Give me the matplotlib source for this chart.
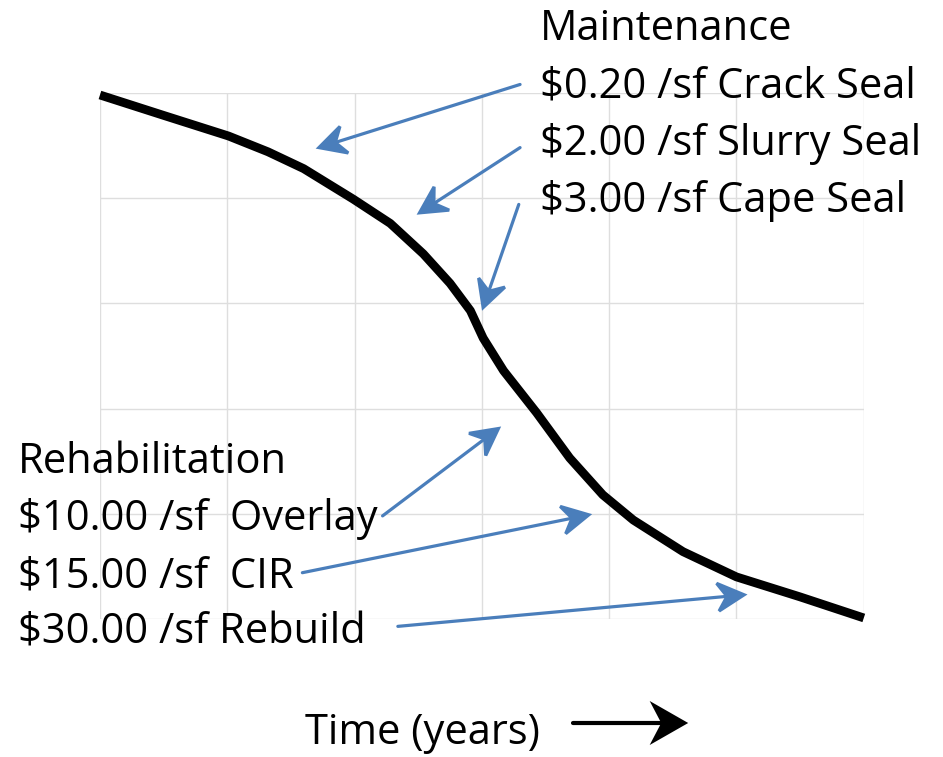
import numpy as np
import matplotlib
matplotlib.use('Agg')
import matplotlib.pyplot as plt
from matplotlib.patches import FancyArrowPatch, ArrowStyle
from matplotlib.path import Path

###############################
# data
###############################

# deterioration curve (condition vs time)
time_pts = [0, 0.49, 1.01, 1.32, 1.60, 1.99, 2.28, 2.54, 2.75, 2.91, 3.01, 3.17,
            3.43, 3.69, 3.95, 4.19, 4.58, 5.00, 5.50, 6.00]
cond_pts = [4.98, 4.79, 4.59, 4.44, 4.28, 3.99, 3.76, 3.47, 3.19, 2.93, 2.67, 2.36,
            1.96, 1.53, 1.18, 0.94, 0.64, 0.40, 0.21, 0.01]

maint_labels = ['Maintenance', '$0.20 /sf Crack Seal', '$2.00 /sf Slurry Seal', '$3.00 /sf Cape Seal']
rehab_labels = ['Rehabilitation', '$10.00 /sf  Overlay', '$15.00 /sf  CIR', '$30.00 /sf Rebuild']

# arrows: (tail x, tail y, tip x, tip y) in data units
maint_arrows = [(3.30, 5.08, 1.72, 4.48),
                (3.30, 4.48, 2.51, 3.86),
                (3.29, 3.94, 3.01, 2.96)]
rehab_arrows = [(2.22, 0.98, 3.13, 1.81),
                (1.59, 0.44, 3.84, 0.99),
                (2.34, -0.07, 5.06, 0.23)]

blue = '#4a7ebb'
font = ['Open Sans', 'DejaVu Sans']
fsize = 30


###############################
# stealth arrow head (office style)
###############################

class Stealth(ArrowStyle._Base):
    def __init__(self, head_length=18, head_width=9, notch=0.35):
        self.head_length = head_length
        self.head_width = head_width
        self.notch = notch
        super().__init__()

    def transmute(self, path, mutation_size, linewidth):
        x0, y0 = path.vertices[0]
        x1, y1 = path.vertices[-1]
        d = np.hypot(x1 - x0, y1 - y0)
        ux, uy = (x1 - x0) / d, (y1 - y0) / d
        px, py = -uy, ux
        hl = self.head_length * mutation_size
        hw = self.head_width * mutation_size
        bx, by = x1 - ux * hl, y1 - uy * hl
        nx, ny = x1 - ux * hl * (1 - self.notch), y1 - uy * hl * (1 - self.notch)
        head = Path([(x1, y1), (bx + px * hw, by + py * hw), (nx, ny),
                     (bx - px * hw, by - py * hw), (x1, y1)],
                    [Path.MOVETO, Path.LINETO, Path.LINETO, Path.LINETO, Path.CLOSEPOLY])
        shaft = Path([(x0, y0), (nx, ny)])
        return [shaft, head], [False, True]


###############################
# plot
###############################

fig = plt.figure(figsize=(9.43, 7.57), dpi=100)
ax = fig.add_axes([0.106, 0.1823, 0.810, 0.695])

ax.set_xlim(0, 6)
ax.set_ylim(0, 5)
ax.set_xticks(range(0, 7))
ax.set_yticks(range(0, 6))
ax.tick_params(length=0, labelbottom=False, labelleft=False)
ax.grid(True, color='#dedede', lw=1)
for s in ax.spines.values():
    s.set_visible(False)

ax.plot(time_pts, cond_pts, color='black', lw=6.3, solid_capstyle='butt',
        solid_joinstyle='round', clip_on=False, zorder=3)

for x0, y0, x1, y1 in maint_arrows + rehab_arrows:
    a = FancyArrowPatch((x0, y0), (x1, y1), arrowstyle=Stealth(19, 10, 0.35),
                        mutation_scale=1, color=blue, lw=2.3, clip_on=False, zorder=4,
                        shrinkA=0, shrinkB=0, joinstyle='miter')
    ax.add_patch(a)

# text blocks
maint_base = [40, 97, 155, 212]
for lab, yb in zip(maint_labels, maint_base):
    fig.text(540 / 943, 1 - yb / 757, lab, fontsize=fsize, family=font, va='baseline', ha='left')

rehab_base = [473, 530, 587, 643]
for lab, yb in zip(rehab_labels, rehab_base):
    fig.text(18 / 943, 1 - yb / 757, lab, fontsize=fsize, family=font, va='baseline', ha='left')

fig.text(305 / 943, 1 - 744 / 757, 'Time (years)', fontsize=fsize, family=font, va='baseline', ha='left')
fig.add_artist(FancyArrowPatch((573 / 943, 1 - 723 / 757), (684 / 943, 1 - 723 / 757),
                               transform=fig.transFigure, arrowstyle=Stealth(21, 12, 0.3),
                               mutation_scale=1, color='black', lw=3, shrinkA=0, shrinkB=0,
                               joinstyle='miter'))

plt.savefig('out.png', dpi=100)
